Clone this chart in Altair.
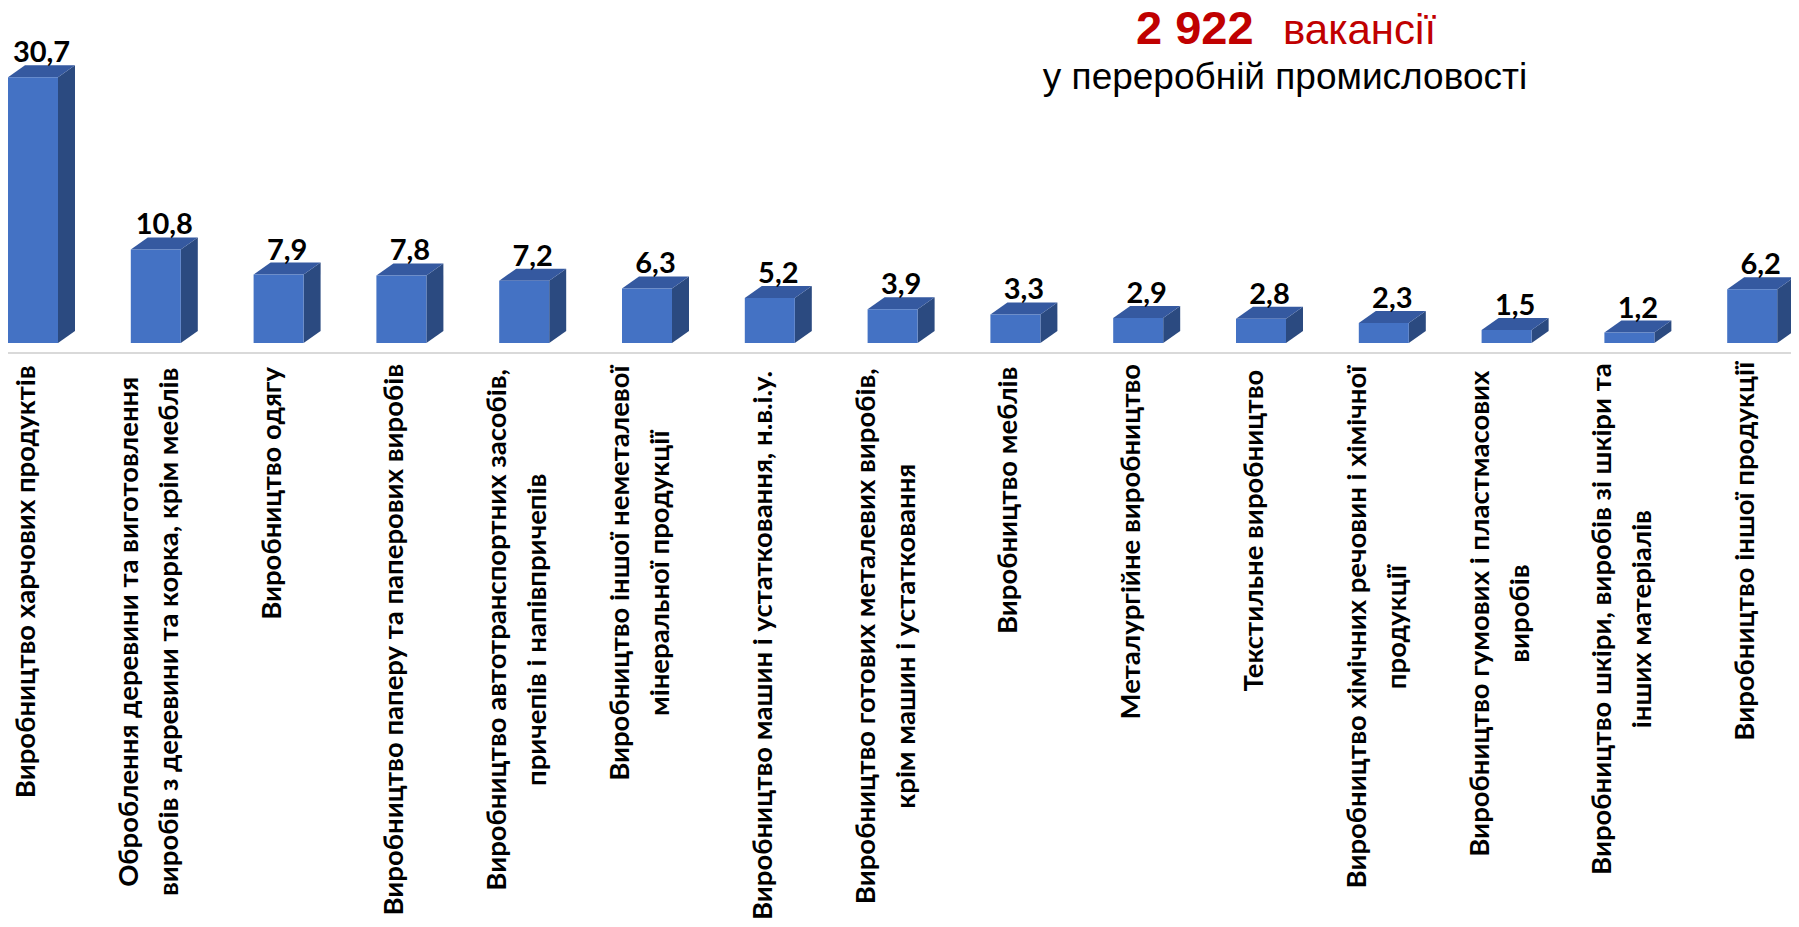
import altair as alt
import pandas as pd

# ---------------- data ----------------
categories = [
    "Виробництво харчових продуктів",
    "Оброблення деревини та виготовлення\nвиробів з деревини та корка, крім меблів",
    "Виробництво одягу",
    "Виробництво паперу та паперових виробів",
    "Виробництво автотранспортних засобів,\nпричепів і напівпричепів",
    "Виробництво іншої неметалевої\nмінеральної продукції",
    "Виробництво машин і устатковання, н.в.і.у.",
    "Виробництво готових металевих виробів,\nкрім машин і устатковання",
    "Виробництво меблів",
    "Металургійне виробництво",
    "Текстильне виробництво",
    "Виробництво хімічних речовин і хімічної\nпродукції",
    "Виробництво гумових і пластмасових\nвиробів",
    "Виробництво шкіри, виробів зі шкіри та\nінших матеріалів",
    "Виробництво іншої продукції",
]
values = [30.7, 10.8, 7.9, 7.8, 7.2, 6.3, 5.2, 3.9, 3.3, 2.9, 2.8, 2.3, 1.5, 1.2, 6.2]

title_number = ["2 922"]
title_word = ["вакансії"]
title_sub = ["у переробній промисловості"]

# ---------------- layout / style constants ----------------
W, H = 1783, 911
PX_IDX = 122.8          # pixels per category step
PX_VAL = 8.66           # pixels per value unit
FRONT_W = 50 / PX_IDX   # front face width (category units)
DEPTH_X = 17 / PX_IDX   # 3-D depth, horizontal
DEPTH_Y = 12 / PX_VAL   # 3-D depth, vertical (value units)
ZERO_PX = 335           # pixel row of the value 0 inside the view
X0 = -FRONT_W / 2
Y_TOP = ZERO_PX / PX_VAL
Y_BOT = -(H - ZERO_PX) / PX_VAL

FRONT = "#4472C4"
TOP = "#3559A0"
SIDE = "#2B4A80"
LABEL_FONT = "Lato"
LABEL_SIZE = 27.5
LINE_H = 40
VALUE_SIZE = 29

x_scale = alt.Scale(domain=[X0, X0 + W / PX_IDX], nice=False, zero=False)
y_scale = alt.Scale(domain=[Y_BOT, Y_TOP], nice=False, zero=False)

# ---------------- derived tables ----------------
front_rows, top_rows, side_rows = [], [], []
for i, v in enumerate(values):
    l, r = i - FRONT_W / 2, i + FRONT_W / 2
    front_rows.append({"bar": i, "x": l, "x2": r, "y": v, "y2": 0.0,
                       "lbl": f"{v:.1f}".replace(".", ","),
                       "lx": i + DEPTH_X / 2, "ly": v + DEPTH_Y})
    for (xx, yy, yy2) in [(l, v, v), (l + DEPTH_X, v + DEPTH_Y, v),
                          (r, v + DEPTH_Y, v), (r + DEPTH_X, v + DEPTH_Y, v + DEPTH_Y)]:
        top_rows.append({"bar": i, "x": xx, "y": yy, "y2": yy2})
    for (xx, yy, yy2) in [(r, v, 0.0), (r + DEPTH_X, v + DEPTH_Y, DEPTH_Y)]:
        side_rows.append({"bar": i, "x": xx, "y": yy, "y2": yy2})


def est_len(s, fs):
    w = 0.0
    for ch in s:
        if ch == " ":
            w += 0.22
        elif ch in "іїi,.:;":
            w += 0.26
        elif ch.isupper():
            w += 0.66
        elif ch in "шщмжюШЩМЖЮ":
            w += 0.78
        else:
            w += 0.54
    return w * fs


label_rows = []
for i, c in enumerate(categories):
    lines = c.split("\n")
    longest = max(est_len(s, LABEL_SIZE) for s in lines)
    shift = 6 + (len(lines) - 1) * LINE_H / 2
    label_rows.append({"x": i - shift / PX_IDX,
                       "y": -(27 + longest / 2) / PX_VAL,
                       "t": c})

front_df = pd.DataFrame(front_rows)
top_df = pd.DataFrame(top_rows)
side_df = pd.DataFrame(side_rows)
label_df = pd.DataFrame(label_rows)

# ---------------- layers ----------------
axis_line = alt.Chart(pd.DataFrame({"z": [0.0]})).mark_rule(
    color="#D9D9D9", strokeWidth=2, yOffset=10
).encode(y=alt.Y("z:Q", scale=y_scale, axis=None))

side = alt.Chart(side_df).mark_area(color=SIDE).encode(
    x=alt.X("x:Q", scale=x_scale, axis=None),
    y=alt.Y("y:Q", scale=y_scale, axis=None, stack=None),
    y2="y2:Q",
    detail="bar:N",
)
top = alt.Chart(top_df).mark_area(color=TOP).encode(
    x=alt.X("x:Q", scale=x_scale, axis=None),
    y=alt.Y("y:Q", scale=y_scale, axis=None, stack=None),
    y2="y2:Q",
    detail="bar:N",
)
front = alt.Chart(front_df).mark_rect(color=FRONT).encode(
    x=alt.X("x:Q", scale=x_scale, axis=None),
    x2="x2:Q",
    y=alt.Y("y:Q", scale=y_scale, axis=None),
    y2="y2:Q",
)
value_text = alt.Chart(front_df).mark_text(
    font=LABEL_FONT, fontSize=VALUE_SIZE, fontWeight="bold", color="#000000",
    baseline="alphabetic", align="center", dy=-3
).encode(
    x=alt.X("lx:Q", scale=x_scale, axis=None),
    y=alt.Y("ly:Q", scale=y_scale, axis=None),
    text="lbl:N",
)
cat_text = alt.Chart(label_df).mark_text(
    font=LABEL_FONT, fontSize=LABEL_SIZE, fontWeight="bold", color="#000000",
    angle=270, align="center", baseline="middle", lineBreak="\n", lineHeight=LINE_H
).encode(
    x=alt.X("x:Q", scale=x_scale, axis=None),
    y=alt.Y("y:Q", scale=y_scale, axis=None),
    text="t:N",
)

t1 = alt.Chart(pd.DataFrame({"t": title_number})).mark_text(
    font="Liberation Sans", fontSize=47, fontWeight="bold", color="#C00000",
    align="left", baseline="alphabetic"
).encode(x=alt.value(1128), y=alt.value(36), text="t:N")
t2 = alt.Chart(pd.DataFrame({"t": title_word})).mark_text(
    font="Liberation Sans", fontSize=42, color="#C00000",
    align="left", baseline="alphabetic"
).encode(x=alt.value(1275), y=alt.value(36), text="t:N")
t3 = alt.Chart(pd.DataFrame({"t": title_sub})).mark_text(
    font="Liberation Sans", fontSize=37, color="#000000",
    align="center", baseline="alphabetic"
).encode(x=alt.value(1277), y=alt.value(81), text="t:N")

chart = alt.layer(
    axis_line, side, top, front, value_text, cat_text, t1, t2, t3
).properties(
    width=W, height=H,
    autosize=alt.AutoSizeParams(type="none"),
    padding=0,
    background="#FFFFFF",
).configure_view(stroke=None)

chart.save("out.html", embed_options={"renderer": "svg", "actions": False})
